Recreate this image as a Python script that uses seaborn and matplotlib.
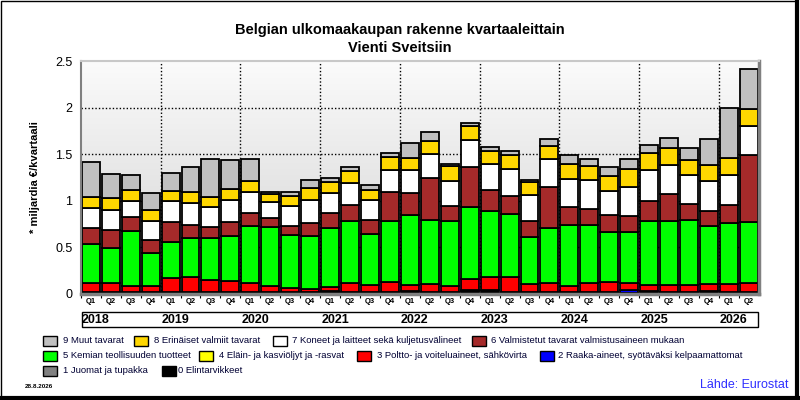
import numpy as np
import pandas as pd
import seaborn as sns
import matplotlib.pyplot as plt
import matplotlib.transforms as mtransforms
from matplotlib.patches import Rectangle
from matplotlib.lines import Line2D
from matplotlib.colors import LinearSegmentedColormap

# quarters 2018Q1 .. 2026Q2
years = ["2018", "2019", "2020", "2021", "2022", "2023", "2024", "2025", "2026"]
quarter_names = ["Q1", "Q2", "Q3", "Q4"]
periods = [y + q for y in years for q in quarter_names][:34]
tick_labels = [p[4:] for p in periods]

# values, billion EUR per quarter
elintarvikkeet = [0.015, 0.010, 0.015, 0.015, 0.015, 0.015, 0.015, 0.015, 0.015, 0.015, 0.015, 0.015,
                  0.025, 0.020, 0.020, 0.020, 0.030, 0.010, 0.010, 0.035, 0.045, 0.010, 0.010, 0.010,
                  0.010, 0.010, 0.010, 0.010, 0.030, 0.010, 0.010, 0.030, 0.010, 0.010]
juomat = [0.003, 0.008, 0.003, 0.003, 0.003, 0.003, 0.003, 0.003, 0.003, 0.003, 0.003, 0.003,
          0.003, 0.003, 0.003, 0.003, 0.003, 0.008, 0.008, 0.003, 0.003, 0.008, 0.008, 0.008,
          0.003, 0.008, 0.008, 0.003, 0.003, 0.008, 0.008, 0.003, 0.003, 0.003]
raaka_aineet = [0, 0, 0, 0, 0, 0, 0, 0, 0, 0, 0, 0,
                0, 0, 0, 0, 0, 0, 0, 0, 0, 0, 0, 0,
                0.010, 0, 0, 0.030, 0, 0, 0, 0, 0.012, 0.012]
poltto = [0.100, 0.100, 0.068, 0.068, 0.153, 0.164, 0.132, 0.121, 0.100, 0.068, 0.046, 0.036,
          0.051, 0.095, 0.073, 0.106, 0.063, 0.089, 0.068, 0.123, 0.134, 0.164, 0.089, 0.100,
          0.063, 0.100, 0.111, 0.075, 0.064, 0.079, 0.079, 0.075, 0.083, 0.093]
oljyt = [0] * 34
kemia = [0.418, 0.375, 0.585, 0.353, 0.383, 0.418, 0.450, 0.482, 0.611, 0.632, 0.568, 0.567,
         0.628, 0.664, 0.547, 0.653, 0.750, 0.686, 0.696, 0.771, 0.707, 0.675, 0.504, 0.588,
         0.656, 0.624, 0.538, 0.549, 0.688, 0.688, 0.699, 0.623, 0.655, 0.656]
valmistetut = [0.171, 0.193, 0.150, 0.136, 0.214, 0.136, 0.114, 0.147, 0.139, 0.096, 0.097, 0.140,
               0.161, 0.172, 0.150, 0.311, 0.236, 0.450, 0.161, 0.429, 0.225, 0.193, 0.171, 0.445,
               0.193, 0.172, 0.182, 0.172, 0.215, 0.290, 0.172, 0.161, 0.194, 0.721]
koneet = [0.214, 0.214, 0.175, 0.207, 0.228, 0.239, 0.218, 0.239, 0.225, 0.172, 0.214, 0.246,
          0.214, 0.235, 0.214, 0.236, 0.247, 0.257, 0.268, 0.289, 0.279, 0.289, 0.279, 0.301,
          0.302, 0.312, 0.259, 0.312, 0.333, 0.312, 0.312, 0.323, 0.323, 0.311]
erinaiset = [0.115, 0.125, 0.118, 0.118, 0.108, 0.118, 0.107, 0.118, 0.118, 0.085, 0.107, 0.129,
             0.118, 0.129, 0.107, 0.139, 0.128, 0.139, 0.160, 0.150, 0.139, 0.150, 0.139, 0.139,
             0.161, 0.150, 0.161, 0.193, 0.183, 0.183, 0.161, 0.172, 0.182, 0.183]
muut = [0.378, 0.261, 0.161, 0.182, 0.192, 0.268, 0.407, 0.311, 0.235, 0.022, 0.043, 0.085,
        0.043, 0.043, 0.054, 0.043, 0.161, 0.097, 0.022, 0.032, 0.043, 0.043, 0.021, 0.076,
        0.097, 0.076, 0.097, 0.108, 0.086, 0.107, 0.129, 0.280, 0.538, 0.430]

series_names = ["0 Elintarvikkeet", "1 Juomat ja tupakka", "2 Raaka-aineet, syötäväksi kelpaamattomat",
                "3 Poltto- ja voiteluaineet, sähkövirta", "4 Eläin- ja kasviöljyt ja -rasvat",
                "5 Kemian teollisuuden tuotteet", "6 Valmistetut tavarat valmistusaineen mukaan",
                "7 Koneet ja laitteet sekä kuljetusvälineet", "8 Erinäiset valmiit tavarat",
                "9 Muut tavarat"]
series_values = [elintarvikkeet, juomat, raaka_aineet, poltto, oljyt, kemia, valmistetut,
                 koneet, erinaiset, muut]
colors = ["#000000", "#808080", "#0000ff", "#ff0000", "#ffff00", "#00ff00", "#a52a2a",
          "#ffffff", "#ffd700", "#c0c0c0"]

plt.rcParams['font.family'] = ['Liberation Sans', 'DejaVu Sans']

fig = plt.figure(figsize=(8, 4), dpi=100)
ax = fig.add_axes([0.101, 0.265, 0.8475, 0.5825])

# stacked bars, bottom category first
bottom = np.zeros(len(periods))
for name, vals, col in zip(series_names, series_values, colors):
    vals = np.array(vals, dtype=float)
    sns.barplot(x=periods, y=vals, bottom=bottom, color=col, saturation=1, width=0.9,
                edgecolor="black", linewidth=1.3, errorbar=None, ax=ax, zorder=2)
    bottom = bottom + vals

ax.set_xlim(-0.5, len(periods) - 0.5)
ax.set_ylim(0, 2.5)

# background gradient
cmap = LinearSegmentedColormap.from_list("bg", ["#d2d2d2", "#fbfbfb"])
grad = np.linspace(0, 1, 256).reshape(-1, 1)
ax.imshow(grad, extent=[-0.5, len(periods) - 0.5, 0, 2.5], origin="lower",
          aspect="auto", cmap=cmap, zorder=0)

for yv in [0.5, 1.0, 1.5, 2.0]:
    ax.axhline(yv, color="black", linestyle=(0, (1, 1.5)), linewidth=1.0, zorder=1)
for xv in np.arange(3.5, len(periods) - 1, 4):
    ax.axvline(xv, color="black", linestyle=(0, (1, 1.5)), linewidth=1.0, zorder=1)

ax.set_xticks(range(len(periods)))
ax.set_xticklabels(tick_labels, fontsize=5.5, fontweight="bold")
ax.tick_params(axis="x", which="major", length=0, pad=3)
ax.set_xticks(np.arange(-0.5, len(periods) - 0.5, 1), minor=True)
ax.tick_params(axis="x", which="minor", length=3, width=0.8, color="black")
ax.set_yticks([0, 0.5, 1, 1.5, 2, 2.5])
ax.set_yticklabels(["0", "0.5", "1", "1.5", "2", "2.5"], fontsize=9)
ax.tick_params(axis="y", length=0, pad=6)
ax.set_xlabel("")
ax.set_ylabel("* miljardia €/kvartaali", fontsize=8, fontweight="bold", labelpad=11)

for side in ["bottom", "right"]:
    ax.spines[side].set_color("#808080")
    ax.spines[side].set_linewidth(2.5)
ax.spines["left"].set_color("#808080")
ax.spines["left"].set_linewidth(1.5)
ax.spines["top"].set_color("#c8c8c8")
ax.spines["top"].set_linewidth(1.5)

# year band
fig.patches.append(Rectangle((0.1025, 0.1825), 0.845, 0.0375, transform=fig.transFigure,
                             facecolor="white", edgecolor="black", linewidth=1, zorder=0))
trans = mtransforms.blended_transform_factory(ax.transData, fig.transFigure)
for k, y in enumerate(years):
    fig.text(k * 4 + 0.25, 0.201, y, transform=trans, ha="center", va="center",
             fontsize=9, fontweight="bold", zorder=5)

# titles
fig.text(0.5, 0.925, "Belgian ulkomaakaupan rakenne kvartaaleittain", ha="center", va="center",
         fontsize=10.5, fontweight="bold")
fig.text(0.5, 0.88, "Vienti Sveitsiin", ha="center", va="center", fontsize=10.5, fontweight="bold")

# legend, laid out like the original
legend_rows = [
    [(9, 43, 63), (8, 134, 154), (7, 273, 292), (6, 472, 491)],
    [(5, 43, 63), (4, 199, 219), (3, 357, 377), (2, 540, 558)],
    [(1, 43, 63), (0, 162, 178)],
]
row_y = [340.7, 355.8, 370.8]
for row, yc in zip(legend_rows, row_y):
    for idx, bx, tx in row:
        fig.patches.append(Rectangle((bx / 800, 1 - (yc + 5) / 400), 14 / 800, 10 / 400,
                                     transform=fig.transFigure, facecolor=colors[idx],
                                     edgecolor="black", linewidth=1))
        fig.text(tx / 800, 1 - yc / 400, series_names[idx], ha="left", va="center",
                 fontsize=6.8, color="#000033")

fig.text(25 / 800, 1 - 387 / 400, "28.8.2026", ha="left", va="center", fontsize=4.5,
         fontweight="bold")
fig.text(789 / 800, 1 - 385 / 400, "Lähde: Eurostat", ha="right", va="center", fontsize=9,
         color="#2f2fff")

# outer frame
fig.patches.append(Rectangle((0.001, 0.004), 0.994, 0.994, transform=fig.transFigure,
                             facecolor="none", edgecolor="black", linewidth=1))
fig.lines.append(Line2D([0.996, 0.996], [0.0, 1.0], transform=fig.transFigure,
                        color="black", linewidth=3))
fig.lines.append(Line2D([0.0, 1.0], [0.004, 0.004], transform=fig.transFigure,
                        color="black", linewidth=3))

fig.savefig("out.png", dpi=100)
